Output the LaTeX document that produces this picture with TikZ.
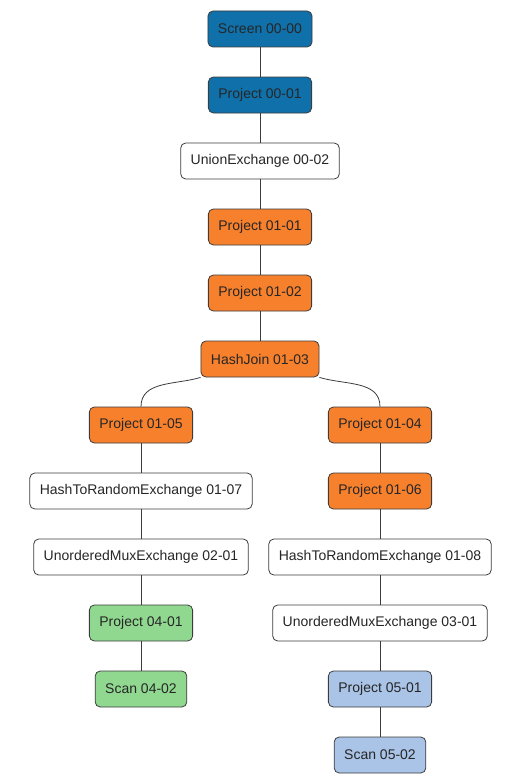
\documentclass[tikz,border=0pt]{standalone}
\usepackage{fontspec}
\setmainfont{Liberation Sans}
\usetikzlibrary{positioning}
\definecolor{opblue}{RGB}{16,112,170}
\definecolor{oporange}{RGB}{247,128,44}
\definecolor{opgreen}{RGB}{144,216,144}
\definecolor{oplight}{RGB}{169,196,230}
\definecolor{opline}{RGB}{60,60,60}
\tikzset{
  opB/.style={rectangle, minimum height=36pt, inner xsep=10pt, align=center, draw=opline, fill=opblue, font=\fontsize{14}{16}\selectfont, text=black!85, rounded corners=5pt, line width=0.8pt},
  opO/.style={rectangle, minimum height=36pt, inner xsep=10pt, align=center, draw=opline, fill=oporange, font=\fontsize{14}{16}\selectfont, text=black!85, rounded corners=5pt, line width=0.8pt},
  opG/.style={rectangle, minimum height=36pt, inner xsep=10pt, align=center, draw=opline, fill=opgreen, font=\fontsize{14}{16}\selectfont, text=black!85, rounded corners=5pt, line width=0.8pt},
  opL/.style={rectangle, minimum height=36pt, inner xsep=10pt, align=center, draw=opline, fill=oplight, font=\fontsize{14}{16}\selectfont, text=black!85, rounded corners=5pt, line width=0.8pt},
  opW/.style={rectangle, minimum height=36pt, inner xsep=10pt, align=center, draw=opline, fill=white, font=\fontsize{14}{16}\selectfont, text=black!85, rounded corners=5pt, line width=0.8pt},
  edge/.style={draw=opline, line width=0.8pt},
}
\begin{document}
\begin{tikzpicture}[x=1pt, y=1pt, node distance=29.2pt]
\useasboundingbox (0,0) rectangle (528,-776);
\node (scr)  [opB] at (260,-29) {Screen 00-00};
\node (p001) [opB, below=of scr]  {Project 00-01};
\node (ux)   [opW, below=of p001] {UnionExchange 00-02};
\node (p101) [opO, below=of ux]   {Project 01-01};
\node (p102) [opO, below=of p101] {Project 01-02};
\node (hj)   [opO, below=of p102] {HashJoin 01-03};
% left branch
\node (p105) [opO, below=of hj, xshift=-119pt] {Project 01-05};
\node (hr07) [opW, below=of p105] {HashToRandomExchange 01-07};
\node (um21) [opW, below=of hr07] {UnorderedMuxExchange 02-01};
\node (p401) [opG, below=of um21] {Project 04-01};
\node (s402) [opG, below=of p401] {Scan 04-02};
% right branch
\node (p104) [opO, below=of hj, xshift=120pt] {Project 01-04};
\node (p106) [opO, below=of p104] {Project 01-06};
\node (hr08) [opW, below=of p106] {HashToRandomExchange 01-08};
\node (um31) [opW, below=of hr08] {UnorderedMuxExchange 03-01};
\node (p501) [opL, below=of um31] {Project 05-01};
\node (s502) [opL, below=of p501] {Scan 05-02};
\draw[edge] (scr) -- (p001);
\draw[edge] (p001) -- (ux);
\draw[edge] (ux) -- (p101);
\draw[edge] (p101) -- (p102);
\draw[edge] (p102) -- (hj);
\draw[edge] (hj.south west) to[out=197, in=90] (p105.north);
\draw[edge] (hj.south east) to[out=-17, in=90] (p104.north);
\draw[edge] (p105) -- (hr07);
\draw[edge] (hr07) -- (um21);
\draw[edge] (um21) -- (p401);
\draw[edge] (p401) -- (s402);
\draw[edge] (p104) -- (p106);
\draw[edge] (p106) -- (hr08);
\draw[edge] (hr08) -- (um31);
\draw[edge] (um31) -- (p501);
\draw[edge] (p501) -- (s502);
\end{tikzpicture}
\end{document}
